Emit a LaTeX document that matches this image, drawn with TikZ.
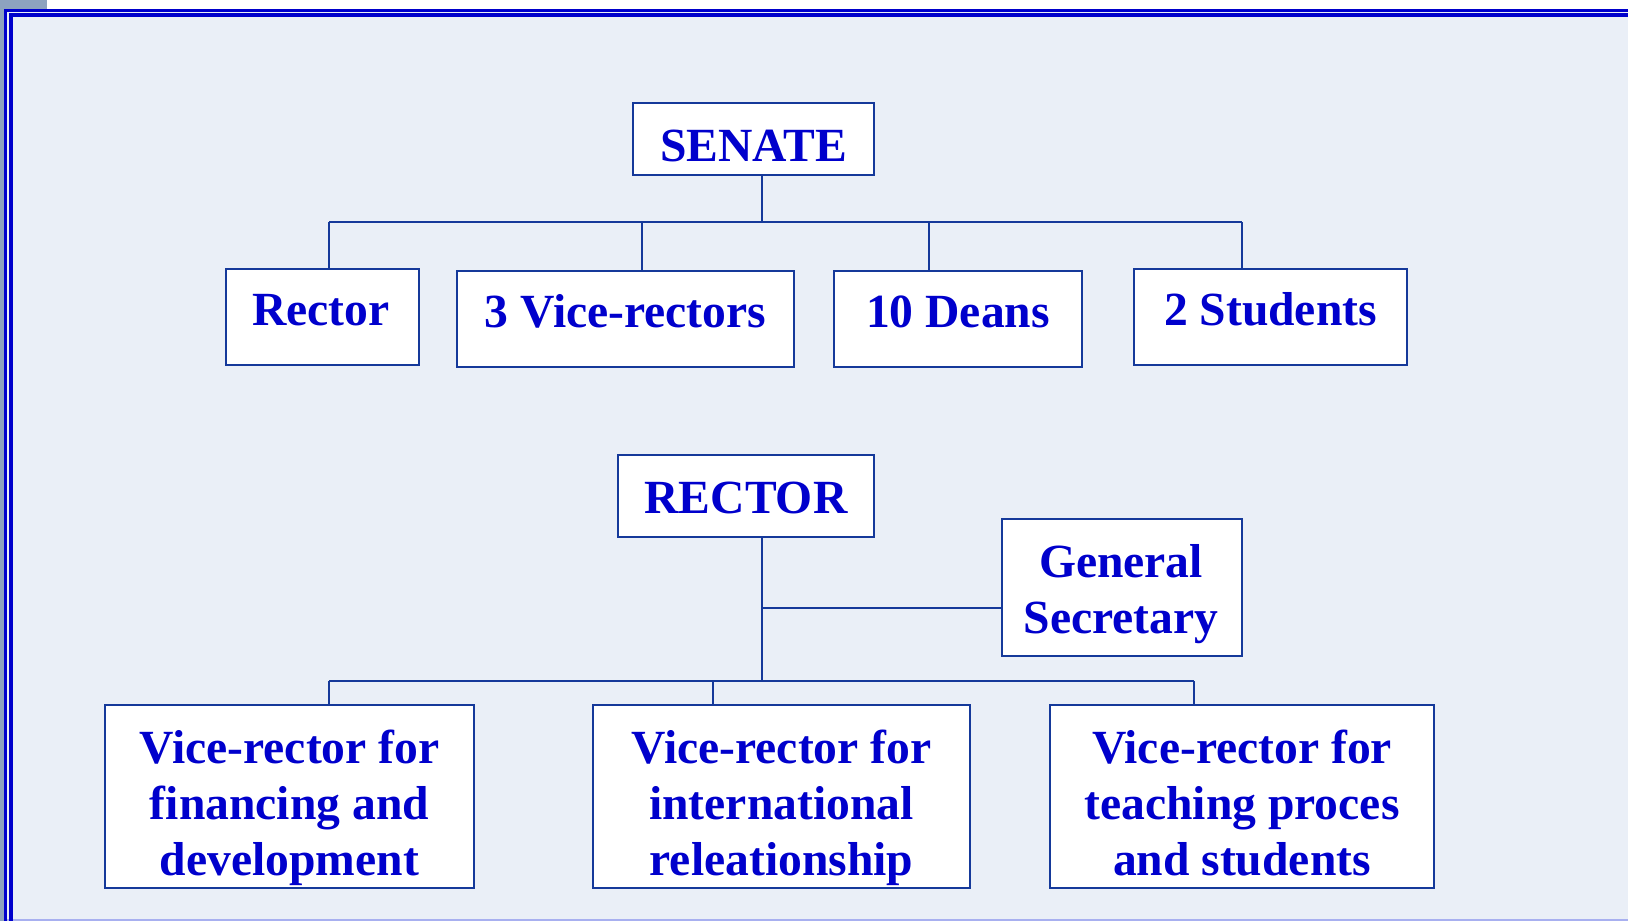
\documentclass[tikz,border=0pt]{standalone}
\usepackage{fontspec}
\setmainfont{Liberation Serif}
\definecolor{panel}{HTML}{EAEFF7}
\definecolor{slate}{HTML}{8DA2BF}
\definecolor{frameblue}{HTML}{0000CC}
\definecolor{boxline}{HTML}{15399A}
\definecolor{txt}{HTML}{0000CC}
\definecolor{lav}{HTML}{A8B0F0}
\begin{document}
\begin{tikzpicture}[x=0.5pt,y=-0.5pt,
  box/.style={draw=boxline, line width=1.2pt, fill=white, inner sep=0pt, rectangle},
  lbl/.style={text=txt, font=\fontsize{23.8}{28}\selectfont\bfseries, inner sep=0pt, anchor=base},
  conn/.style={draw=boxline, line width=1.1pt}]
\useasboundingbox (0,0) rectangle (1628,921);
% background and frame
\fill[white] (0,0) rectangle (1628,921);
\fill[slate] (0,0) rectangle (47,10);
\fill[slate] (0,0) rectangle (4,921);
\fill[panel] (4,10) rectangle (1628,919);
\fill[lav] (4,919) rectangle (1628,921);
\draw[frameblue, line width=1.6pt] (5.6,921) -- (5.6,10.2) -- (1628,10.2);
\draw[frameblue, line width=1.6pt] (11,921) -- (11,15) -- (1628,15);

% boxes
\node[box, minimum width=120.5pt, minimum height=36pt] (senate) at (753.5,139) {};
\node[box, minimum width=96.5pt, minimum height=48pt] (rector) at (322.5,317) {};
\node[box, minimum width=168.5pt, minimum height=48pt] (vice) at (625.5,319) {};
\node[box, minimum width=124pt, minimum height=48pt] (deans) at (958,319) {};
\node[box, minimum width=136.5pt, minimum height=48pt] (students) at (1270.5,317) {};
\node[box, minimum width=128pt, minimum height=41pt] (rectorb) at (746,496) {};
\node[box, minimum width=120pt, minimum height=68.5pt] (gs) at (1122,587.5) {};
\node[box, minimum width=184.5pt, minimum height=91.5pt] (vr1) at (289.5,796.5) {};
\node[box, minimum width=188.5pt, minimum height=91.5pt] (vr2) at (781.5,796.5) {};
\node[box, minimum width=192pt, minimum height=91.5pt] (vr3) at (1242,796.5) {};

% texts
\node[lbl] (tsenate) at (753.5,161) {SENATE};
\node[lbl] (trector) at (321,325) {Rector};
\node[lbl] (tvice) at (625.5,327) {3 Vice-rectors};
\node[lbl] (tdeans) at (958,327) {10 Deans};
\node[lbl] (tstudents) at (1270.5,325) {2 Students};
\node[lbl] (trectorb) at (746,513) {RECTOR};
\node[lbl] (tgs) at (1121,577) {\begin{tabular}[t]{@{}c@{}}General\\Secretary\end{tabular}};
\node[lbl] (tvr1) at (289.5,763) {\begin{tabular}[t]{@{}c@{}}Vice-rector for\\financing and\\development\end{tabular}};
\node[lbl] (tvr2) at (781.5,763) {\begin{tabular}[t]{@{}c@{}}Vice-rector for\\international\\releationship\end{tabular}};
\node[lbl] (tvr3) at (1242,763) {\begin{tabular}[t]{@{}c@{}}Vice-rector for\\teaching proces\\and students\end{tabular}};

% connectors: senate tree
\coordinate (sj) at (762,222);
\coordinate (s1) at (329,222);
\coordinate (s2) at (642,222);
\coordinate (s3) at (929,222);
\coordinate (s4) at (1242,222);
\draw[conn] (sj |- senate.south) -- (sj);
\draw[conn] (s1) -- (s4);
\draw[conn] (s1) -- (s1 |- rector.north);
\draw[conn] (s2) -- (s2 |- vice.north);
\draw[conn] (s3) -- (s3 |- deans.north);
\draw[conn] (s4) -- (s4 |- students.north);

% connectors: rector tree
\coordinate (rj) at (762,681);
\coordinate (gj) at (762,608);
\coordinate (r1) at (329,681);
\coordinate (r2) at (713,681);
\coordinate (r3) at (1194,681);
\draw[conn] (rj |- rectorb.south) -- (rj);
\draw[conn] (gj) -- (gj -| gs.west);
\draw[conn] (r1) -- (r3);
\draw[conn] (r1) -- (r1 |- vr1.north);
\draw[conn] (r2) -- (r2 |- vr2.north);
\draw[conn] (r3) -- (r3 |- vr3.north);
\end{tikzpicture}
\end{document}
